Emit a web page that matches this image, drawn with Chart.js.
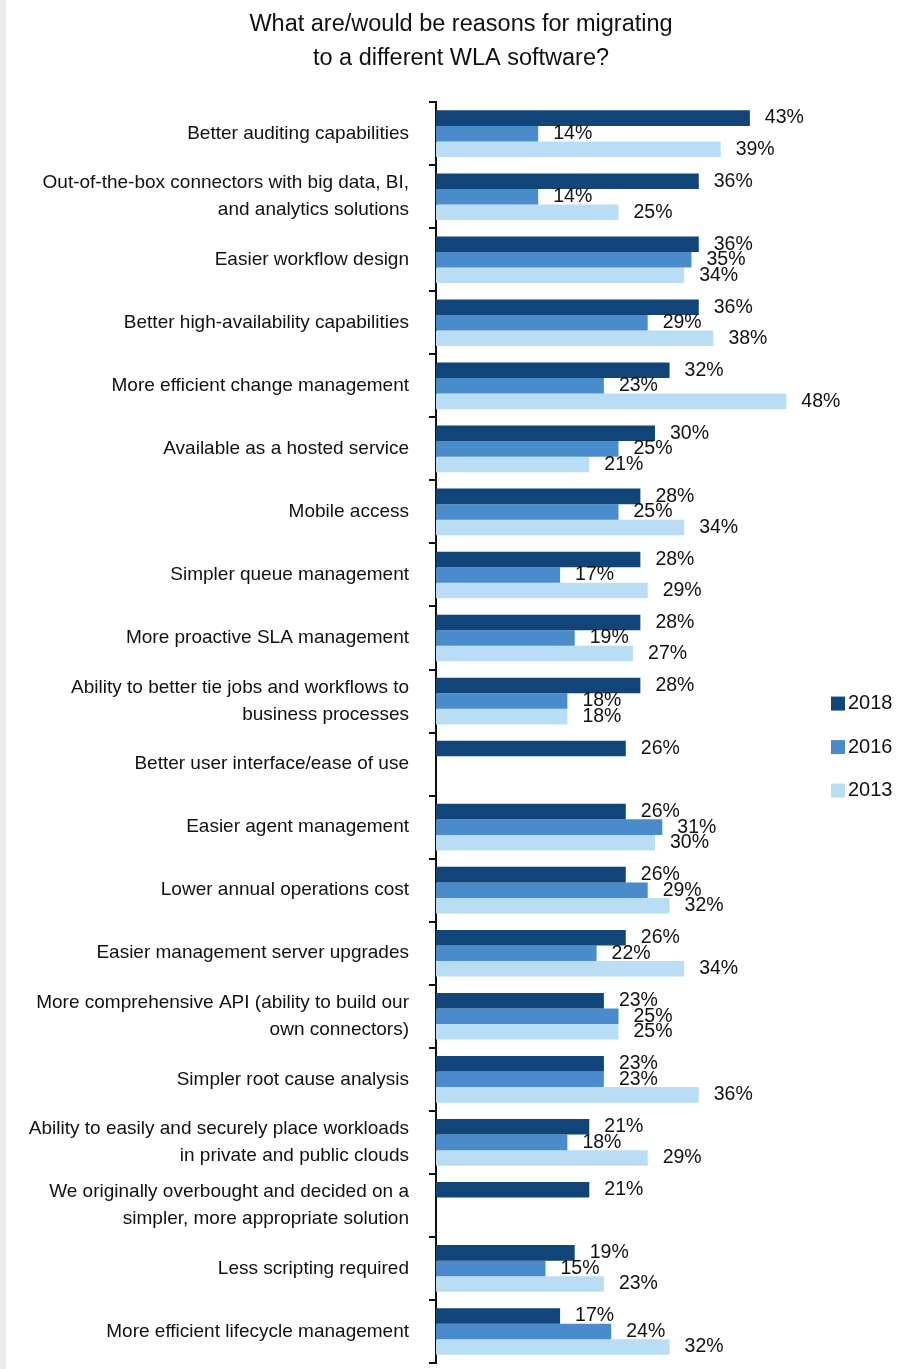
<!DOCTYPE html>
<html>
<head>
<meta charset="utf-8">
<script src="https://cdn.jsdelivr.net/npm/chart.js@4.4.1/dist/chart.umd.min.js"></script>
<style>
html,body{margin:0;padding:0;background:#fff;}
#wrap{width:909px;height:1369px;position:relative;}
</style>
</head>
<body>
<div id="wrap"><canvas id="c" width="909" height="1369"></canvas></div>
<script>
const FONT = "'Liberation Sans Narrow','Arial Narrow','Liberation Sans',Arial,sans-serif";

const titleLines = ["What are/would be reasons for migrating", "to a different WLA software?"];

const categories = [
  "Better auditing capabilities",
  ["Out-of-the-box connectors with big data, BI,", "and analytics solutions"],
  "Easier workflow design",
  "Better high-availability capabilities",
  "More efficient change management",
  "Available as a hosted service",
  "Mobile access",
  "Simpler queue management",
  "More proactive SLA management",
  ["Ability to better tie jobs and workflows to", "business processes"],
  "Better user interface/ease of use",
  "Easier agent management",
  "Lower annual operations cost",
  "Easier management server upgrades",
  ["More comprehensive API (ability to build our", "own connectors)"],
  "Simpler root cause analysis",
  ["Ability to easily and securely place workloads", "in private and public clouds"],
  ["We originally overbought and decided on a", "simpler, more appropriate solution"],
  "Less scripting required",
  "More efficient lifecycle management"
];

const seriesLabels = ["2018", "2016", "2013"];
const values2018 = [43, 36, 36, 36, 32, 30, 28, 28, 28, 28, 26, 26, 26, 26, 23, 23, 21, 21, 19, 17];
const values2016 = [14, 14, 35, 29, 23, 25, 25, 17, 19, 18, null, 31, 29, 22, 25, 23, 18, null, 15, 24];
const values2013 = [39, 25, 34, 38, 48, 21, 34, 29, 27, 18, null, 30, 32, 34, 25, 36, 29, null, 23, 32];

const colors = ["#11457a", "#4a8ccb", "#b8ddf4"];

const bgStrip = {
  id: 'bgStrip',
  beforeDraw(chart) {
    const ctx = chart.ctx;
    ctx.save();
    ctx.fillStyle = '#ebebeb';
    ctx.fillRect(0, 0, 6, chart.height);
    ctx.restore();
  }
};

const valueLabels = {
  id: 'valueLabels',
  afterDatasetsDraw(chart) {
    const ctx = chart.ctx;
    ctx.save();
    ctx.font = "19.5px " + FONT;
    ctx.fillStyle = '#111';
    ctx.textAlign = 'left';
    ctx.textBaseline = 'middle';
    chart.data.datasets.forEach((ds, di) => {
      const meta = chart.getDatasetMeta(di);
      meta.data.forEach((bar, i) => {
        const v = ds.data[i];
        if (v === null || v === undefined) return;
        ctx.fillText(v + '%', bar.x + 15, bar.y);
      });
    });
    ctx.restore();
  }
};

const sideLegend = {
  id: 'sideLegend',
  afterDraw(chart) {
    const ctx = chart.ctx;
    const a = chart.chartArea;
    ctx.save();
    ctx.font = "20px " + FONT;
    ctx.textAlign = 'left';
    ctx.textBaseline = 'middle';
    const cy = a.top + (a.bottom - a.top) * 0.5115;
    chart.data.datasets.forEach((ds, i) => {
      const y = cy + (i - 1) * 43.5;
      ctx.fillStyle = ds.backgroundColor;
      ctx.fillRect(831, y - 7, 14, 14);
      ctx.fillStyle = '#111';
      ctx.fillText(ds.label, 848, y);
    });
    ctx.restore();
  }
};

new Chart(document.getElementById('c'), {
  type: 'bar',
  data: {
    labels: categories,
    datasets: [
      { label: seriesLabels[0], data: values2018, backgroundColor: colors[0] },
      { label: seriesLabels[1], data: values2016, backgroundColor: colors[1] },
      { label: seriesLabels[2], data: values2013, backgroundColor: colors[2] }
    ]
  },
  options: {
    indexAxis: 'y',
    responsive: false,
    animation: false,
    devicePixelRatio: 1,
    layout: { padding: { left: 13, right: 0, top: 0, bottom: 6 } },
    datasets: { bar: { categoryPercentage: 0.74, barPercentage: 1.0, borderWidth: 0 } },
    plugins: {
      legend: { display: false },
      tooltip: { enabled: false },
      title: {
        display: true,
        text: titleLines,
        color: '#111',
        font: { family: FONT, size: 23.5, weight: 'normal', lineHeight: 1.45 },
        padding: { top: 7, bottom: 27 }
      }
    },
    scales: {
      x: {
        display: false,
        min: 0,
        max: 64.8
      },
      y: {
        afterFit(scale) { scale.width = 423; scale.paddingTop = 0; scale.paddingBottom = 0; },
        border: { display: true, color: '#111', width: 2 },
        grid: {
          drawOnChartArea: false,
          drawTicks: true,
          tickLength: 7,
          color: '#111',
          lineWidth: 2,
          offset: true
        },
        ticks: {
          color: '#111',
          padding: 20,
          font: { family: FONT, size: 19, lineHeight: 1.42 },
          autoSkip: false
        }
      }
    }
  },
  plugins: [bgStrip, valueLabels, sideLegend]
});
</script>
</body>
</html>
